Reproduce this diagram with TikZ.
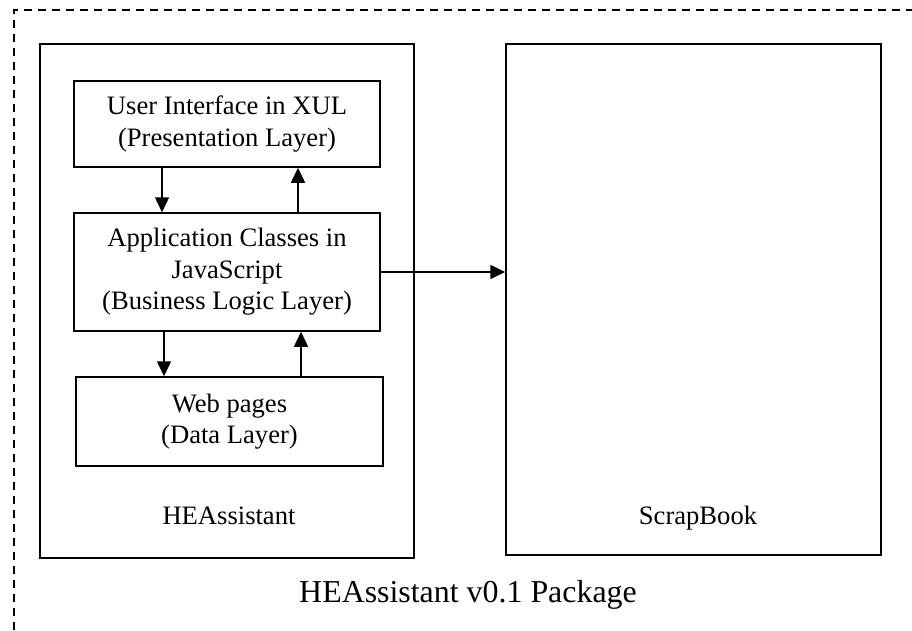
\documentclass[tikz,border=0pt]{standalone}
\usepackage{fontspec}
\setmainfont{Liberation Serif}
\usetikzlibrary{arrows.meta,calc}
\begin{document}
\begin{tikzpicture}[x=1pt,y=-1pt,
  box/.style={draw,line width=1.5pt,rectangle,inner sep=0pt,align=center,
    font=\fontsize{26.6}{31.5}\selectfont},
  arr/.style={line width=1.5pt,-{Triangle[length=15pt,width=14pt]}},
  lbl/.style={inner sep=0pt,anchor=base,font=\fontsize{26.6}{31.5}\selectfont}]
\useasboundingbox (0,0) rectangle (912,630);
\draw[line width=1.5pt,dash pattern=on 8pt off 6pt] (14,630) -- (14,10) -- (912,10);
\node[box,minimum width=374pt,minimum height=514pt] (hea) at (227,301) {};
\node[box,minimum width=375pt,minimum height=511pt] (sb) at (693.5,299.5) {};
\node[box,minimum width=306pt,minimum height=86pt] (ui) at (227,124) {User Interface in XUL\\(Presentation Layer)};
\node[box,minimum width=306pt,minimum height=118pt] (app) at (227,272) {Application Classes in\\JavaScript\\(Business Logic Layer)};
\node[box,minimum width=307pt,minimum height=89pt] (web) at (229.5,421.5) {Web pages\\(Data Layer)};
\node[lbl] (hl) at (229,524) {HEAssistant};
\node[lbl] (sl) at (698,524) {ScrapBook};
\node[lbl,font=\fontsize{31.9}{36}\selectfont] (pl) at (468,602) {HEAssistant v0.1 Package};
\draw[arr] (ui.south -| 162,0) -- (app.north -| 162,0);
\draw[arr] (app.north -| 298,0) -- (ui.south -| 298,0);
\draw[arr] (app.south -| 164,0) -- (web.north -| 164,0);
\draw[arr] (web.north -| 301,0) -- (app.south -| 301,0);
\draw[arr] (app.east) -- (sb.west |- app.east);
\end{tikzpicture}
\end{document}
